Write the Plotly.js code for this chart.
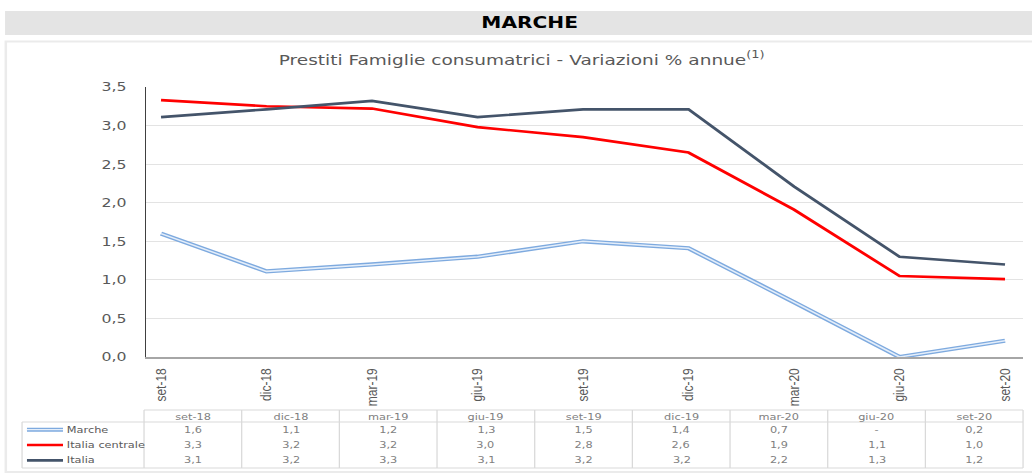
<!DOCTYPE html>
<html>
<head>
<meta charset="utf-8">
<script src="https://cdn.plot.ly/plotly-3.0.1.min.js"></script>
<style>
  html, body { margin: 0; padding: 0; background: #ffffff; overflow: hidden; }
  #wrap { width: 819px; height: 475px; transform: scaleX(1.26007); transform-origin: 0 0; }
</style>
</head>
<body>
<div id="wrap"></div>
<script>
// ---- data ----
const categories = ['set-18','dic-18','mar-19','giu-19','set-19','dic-19','mar-20','giu-20','set-20'];
const seriesNames = ['Marche', 'Italia centrale', 'Italia'];
const marche = [1.60, 1.11, 1.20, 1.30, 1.50, 1.41, 0.71, 0.00, 0.21];
const italiaCentrale = [3.33, 3.25, 3.22, 2.98, 2.85, 2.65, 1.91, 1.05, 1.01];
const italia = [3.11, 3.21, 3.32, 3.11, 3.21, 3.21, 2.21, 1.30, 1.20];
const marcheLabels = ['1,6','1,1','1,2','1,3','1,5','1,4','0,7','-','0,2'];
const centraleLabels = ['3,3','3,2','3,2','3,0','2,8','2,6','1,9','1,1','1,0'];
const italiaLabels = ['3,1','3,2','3,3','3,1','3,2','3,2','2,2','1,3','1,2'];
const sectionTitle = 'MARCHE';
const chartTitle = 'Prestiti Famiglie consumatrici - Variazioni % annue<sup>(1)</sup>';

// ---- geometry (pre-stretch pixels) ----
const W = 819, H = 475;
const px = x => x / W;
const py = y => 1 - y / H;
const FONT = 'DejaVu Sans, Verdana, sans-serif';
const plotL = 115.9, plotR = 811.9, plotT = 87, plotB = 357;

const colors = { marcheOuter: '#7eaadf', marcheInner: '#e4eefa', centrale: '#ff0000', italia: '#44546a' };

const traces = [
  { x: categories, y: marche, type: 'scatter', mode: 'lines', name: seriesNames[0],
    line: { color: colors.marcheOuter, width: 4.2 }, showlegend: false, hoverinfo: 'skip' },
  { x: categories, y: marche, type: 'scatter', mode: 'lines', name: seriesNames[0],
    line: { color: colors.marcheInner, width: 1.5 }, showlegend: false },
  { x: categories, y: italiaCentrale, type: 'scatter', mode: 'lines', name: seriesNames[1],
    line: { color: colors.centrale, width: 2.6 }, showlegend: false },
  { x: categories, y: italia, type: 'scatter', mode: 'lines', name: seriesNames[2],
    line: { color: colors.italia, width: 2.6 }, showlegend: false }
];

const shapes = [];
const annotations = [];

// banner and frame
shapes.push({ type: 'rect', xref: 'paper', yref: 'paper', x0: px(4), x1: 1.01, y0: py(35), y1: py(11),
  fillcolor: '#e4e4e4', line: { width: 0 }, layer: 'below' });
shapes.push({ type: 'rect', xref: 'paper', yref: 'paper', x0: px(4.6), x1: 1.01, y0: py(472), y1: py(41.5),
  fillcolor: 'rgba(0,0,0,0)', line: { color: '#ebebeb', width: 2 }, layer: 'below' });
annotations.push({ text: '<b>' + sectionTitle + '</b>', xref: 'paper', yref: 'paper', x: px(420.6), y: py(22.5),
  xanchor: 'center', yanchor: 'middle', showarrow: false, font: { family: FONT, size: 16, color: '#000000' } });

// ---- data table below the chart ----
const tblNameL = 17.5, tblColL = 114.3, tblR = 811.9;
const colW = (tblR - tblColL) / categories.length;
const hdrT = 410, bodyT = 422, bodyB = 468;
const rowH = (bodyB - bodyT) / 3;
const gridC = '#d9d9d9';
function hline(y, x0, x1) {
  shapes.push({ type: 'line', xref: 'paper', yref: 'paper', x0: px(x0), x1: px(x1), y0: py(y), y1: py(y),
    line: { color: gridC, width: 1 } });
}
function vline(x, y0, y1) {
  shapes.push({ type: 'line', xref: 'paper', yref: 'paper', x0: px(x), x1: px(x), y0: py(y0), y1: py(y1),
    line: { color: gridC, width: 1 } });
}
hline(hdrT, tblColL, tblR);
hline(bodyT, tblNameL, tblR);
hline(bodyB, tblNameL, tblR);
vline(tblNameL, bodyT, bodyB);
for (let i = 0; i <= categories.length; i++) vline(tblColL + i * colW, hdrT, bodyB);

const rowLabels = [marcheLabels, centraleLabels, italiaLabels];
categories.forEach((c, i) => {
  const cx = tblColL + (i + 0.5) * colW;
  annotations.push({ text: c, xref: 'paper', yref: 'paper', x: px(cx), y: py((hdrT + bodyT) / 2 + 0.5),
    xanchor: 'center', yanchor: 'middle', showarrow: false, font: { family: FONT, size: 9, color: '#7f7f7f' } });
  rowLabels.forEach((arr, r) => {
    annotations.push({ text: arr[i], xref: 'paper', yref: 'paper', x: px(cx), y: py(bodyT + (r + 0.5) * rowH),
      xanchor: 'center', yanchor: 'middle', showarrow: false, font: { family: FONT, size: 9, color: '#7f7f7f' } });
  });
});
const keyStyles = [
  [{ color: colors.marcheOuter, width: 4 }, { color: colors.marcheInner, width: 1.4 }],
  [{ color: colors.centrale, width: 2.6 }],
  [{ color: colors.italia, width: 2.6 }]
];
seriesNames.forEach((n, r) => {
  const yc = bodyT + (r + 0.5) * rowH;
  keyStyles[r].forEach(ls => {
    shapes.push({ type: 'line', xref: 'paper', yref: 'paper', x0: px(21.4), x1: px(50), y0: py(yc), y1: py(yc), line: ls });
  });
  annotations.push({ text: n, xref: 'paper', yref: 'paper', x: px(51.2), y: py(yc),
    xanchor: 'left', yanchor: 'middle', showarrow: false, font: { family: FONT, size: 9, color: '#595959' } });
});

const layout = {
  width: W, height: H,
  margin: { l: 0, r: 0, t: 0, b: 0, pad: 0 },
  paper_bgcolor: '#ffffff', plot_bgcolor: '#ffffff',
  separators: ',.',
  showlegend: false,
  title: { text: chartTitle, xref: 'container', yref: 'container', x: px(414), y: py(59.5),
    xanchor: 'center', yanchor: 'middle', font: { family: FONT, size: 14.7, color: '#595959' } },
  xaxis: {
    type: 'category', categoryorder: 'array', categoryarray: categories,
    domain: [px(plotL), px(plotR)],
    range: [-0.142, 8.171],
    showgrid: false, zeroline: false,
    showline: true, linecolor: '#a6a6a6', linewidth: 1.5,
    ticks: '', tickangle: -90, ticklabelstandoff: 5,
    tickfont: { family: 'Liberation Sans, Arial, sans-serif', size: 12, color: '#595959' },
    fixedrange: true
  },
  yaxis: {
    domain: [py(plotB), py(plotT)],
    range: [0, 3.5], dtick: 0.5, tick0: 0, tickformat: '.1f',
    showgrid: true, gridcolor: '#e3e3e3', gridwidth: 1,
    zeroline: false,
    showline: true, linecolor: '#404040', linewidth: 1,
    ticks: '', ticklabelstandoff: 12,
    tickfont: { family: FONT, size: 12.5, color: '#595959' },
    fixedrange: true
  },
  shapes: shapes,
  annotations: annotations
};

Plotly.newPlot('wrap', traces, layout, { displayModeBar: false, staticPlot: true });
</script>
</body>
</html>
